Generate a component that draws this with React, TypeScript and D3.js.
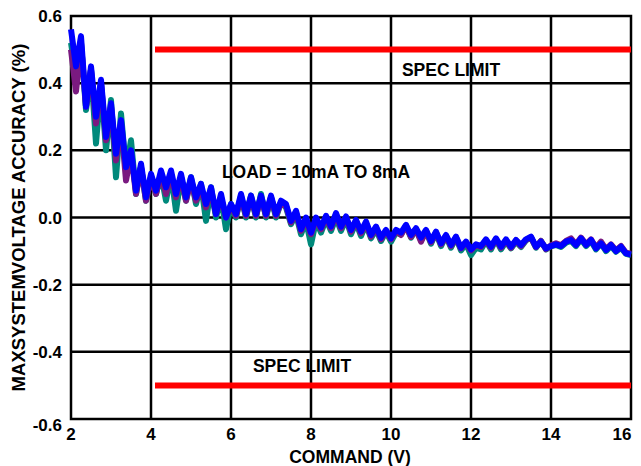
import React, { useEffect, useRef } from 'react';
import * as d3 from 'd3';

// command voltage, 2 V to 16 V in 0.125 V steps
const xStart = 2;
const xStep = 0.125;

const blueSeries = [
  0.56, 0.45, 0.54, 0.33, 0.45, 0.30, 0.41, 0.24, 0.34, 0.19, 0.29, 0.15, 0.20, 0.08, 0.16, 0.06,
  0.13, 0.08, 0.14, 0.09, 0.14, 0.07, 0.13, 0.06, 0.12, 0.06, 0.10, 0.04, 0.09, 0.01, 0.07, 0.00,
  0.04, 0.01, 0.07, 0.01, 0.065, 0.01, 0.065, 0.01, 0.065, 0.01, 0.05, 0.04, -0.01, 0.02, -0.035, 0.0,
  -0.045, 0.0, -0.03, 0.005, -0.027, 0.013, -0.027, 0.003, -0.037, -0.007, -0.042, -0.012, -0.052, -0.027, -0.06, -0.037,
  -0.062, -0.037, -0.045, -0.022, -0.052, -0.032, -0.06, -0.037, -0.07, -0.042, -0.077, -0.052, -0.082, -0.057, -0.09, -0.072,
  -0.095, -0.08, -0.085, -0.065, -0.087, -0.062, -0.087, -0.065, -0.087, -0.067, -0.082, -0.065, -0.057, -0.087, -0.072, -0.092,
  -0.085, -0.08, -0.085, -0.072, -0.067, -0.082, -0.062, -0.082, -0.067, -0.092, -0.077, -0.097, -0.082, -0.10, -0.087, -0.107,
  -0.11,
];

const tealSeries = [
  0.52, 0.42, 0.52, 0.32, 0.44, 0.22, 0.40, 0.20, 0.35, 0.12, 0.31, 0.14, 0.23, 0.07, 0.15, 0.05,
  0.12, 0.07, 0.13, 0.05, 0.13, 0.02, 0.12, 0.05, 0.12, 0.04, 0.10, -0.01, 0.09, 0.0, 0.06, -0.035,
  0.04, 0.0, 0.065, 0.0, 0.065, 0.0, 0.07, 0.0, 0.06, 0.0, 0.045, 0.03, -0.02, 0.01, -0.05, -0.01,
  -0.08, -0.01, -0.045, -0.005, -0.04, 0.0, -0.04, -0.005, -0.05, -0.015, -0.055, -0.02, -0.062, -0.035, -0.07, -0.042,
  -0.072, -0.045, -0.05, -0.025, -0.06, -0.035, -0.068, -0.04, -0.078, -0.045, -0.085, -0.055, -0.09, -0.06, -0.098, -0.078,
  -0.112, -0.09, -0.095, -0.07, -0.095, -0.065, -0.095, -0.072, -0.092, -0.072, -0.088, -0.068, -0.06, -0.09, -0.07, -0.095,
  -0.085, -0.082, -0.088, -0.075, -0.07, -0.085, -0.065, -0.085, -0.07, -0.095, -0.077, -0.10, -0.085, -0.102, -0.09, -0.108,
  -0.112,
];

const purpleSeries = [
  0.50, 0.375, 0.52, 0.33, 0.44, 0.28, 0.40, 0.23, 0.33, 0.17, 0.28, 0.11, 0.19, 0.07, 0.15, 0.05,
  0.12, 0.07, 0.13, 0.07, 0.13, 0.06, 0.12, 0.05, 0.11, 0.05, 0.09, 0.03, 0.08, 0.01, 0.06, 0.0,
  0.035, 0.005, 0.06, 0.005, 0.06, 0.005, 0.06, 0.005, 0.06, 0.005, 0.045, 0.035, -0.015, 0.015, -0.04, -0.005,
  -0.05, -0.005, -0.035, 0.0, -0.032, 0.008, -0.032, 0.0, -0.042, -0.01, -0.047, -0.017, -0.057, -0.03, -0.065, -0.04,
  -0.065, -0.04, -0.052, -0.025, -0.058, -0.035, -0.072, -0.04, -0.074, -0.045, -0.08, -0.055, -0.085, -0.06, -0.092, -0.074,
  -0.098, -0.082, -0.088, -0.068, -0.09, -0.065, -0.09, -0.068, -0.09, -0.068, -0.085, -0.066, -0.06, -0.088, -0.07, -0.094,
  -0.083, -0.077, -0.083, -0.07, -0.062, -0.08, -0.06, -0.08, -0.065, -0.09, -0.072, -0.095, -0.08, -0.098, -0.085, -0.105,
  -0.108,
];

const xTicks = [2, 4, 6, 8, 10, 12, 14, 16];
const yTicks = [-0.6, -0.4, -0.2, 0.0, 0.2, 0.4, 0.6];
const specLimits = [0.5, -0.5];
const specStart = 4.1;

const series = [
  { name: 'teal', color: '#00897b', values: tealSeries },
  { name: 'purple', color: '#7a1a80', values: purpleSeries },
  { name: 'blue', color: '#0000ff', values: blueSeries },
];

const W = 641;
const H = 466;
const margin = { left: 71, right: 10, top: 16, bottom: 47 };
const font = 'Liberation Sans, Arial, sans-serif';

export default function App() {
  const node = useRef<SVGSVGElement | null>(null);

  useEffect(() => {
    const svg = d3.select(node.current);
    svg.selectAll('*').remove();

    const x = d3.scaleLinear().domain([2, 16]).range([margin.left, W - margin.right]);
    const y = d3.scaleLinear().domain([-0.6, 0.6]).range([H - margin.bottom, margin.top]);

    // grid
    const grid = svg.append('g').attr('stroke', '#000').attr('stroke-width', 2.5);
    grid.selectAll('line.v')
      .data(xTicks.slice(1, -1))
      .enter()
      .append('line')
      .attr('x1', (d) => x(d)).attr('x2', (d) => x(d))
      .attr('y1', y(0.6)).attr('y2', y(-0.6));
    grid.selectAll('line.h')
      .data(yTicks.slice(1, -1))
      .enter()
      .append('line')
      .attr('class', 'h')
      .attr('x1', x(2)).attr('x2', x(16))
      .attr('y1', (d) => y(d)).attr('y2', (d) => y(d));
    svg.append('rect')
      .attr('x', x(2)).attr('y', y(0.6))
      .attr('width', x(16) - x(2)).attr('height', y(-0.6) - y(0.6))
      .attr('fill', 'none').attr('stroke', '#000').attr('stroke-width', 2.5);

    // spec limits
    svg.selectAll('line.spec')
      .data(specLimits)
      .enter()
      .append('line')
      .attr('x1', x(specStart)).attr('x2', x(16))
      .attr('y1', (d) => y(d)).attr('y2', (d) => y(d))
      .attr('stroke', '#ff0000').attr('stroke-width', 6);

    const line = d3.line<number>()
      .x((d, i) => x(xStart + i * xStep))
      .y((d) => y(d));

    svg.selectAll('path.series')
      .data(series)
      .enter()
      .append('path')
      .attr('d', (d) => line(d.values))
      .attr('fill', 'none')
      .attr('stroke', (d) => d.color)
      .attr('stroke-width', 6)
      .attr('stroke-linejoin', 'round');

    const text = svg.append('g')
      .attr('font-family', font)
      .attr('font-weight', 'bold')
      .attr('fill', '#000');

    text.selectAll('text.xt')
      .data(xTicks)
      .enter()
      .append('text')
      .attr('x', (d) => x(d) + (d === 16 ? -9 : 0))
      .attr('y', y(-0.6) + 21)
      .attr('text-anchor', 'middle')
      .attr('font-size', 17)
      .text((d) => d);

    text.selectAll('text.yt')
      .data(yTicks)
      .enter()
      .append('text')
      .attr('x', margin.left - 9)
      .attr('y', (d) => y(d) + (d === -0.6 ? 12 : 6))
      .attr('text-anchor', 'end')
      .attr('font-size', 17)
      .text((d) => d.toFixed(1));

    text.append('text')
      .attr('x', 350).attr('y', H - 3)
      .attr('text-anchor', 'middle')
      .attr('font-size', 17.5)
      .text('COMMAND (V)');

    text.append('text')
      .attr('transform', `translate(25, ${(y(0.6) + y(-0.6)) / 2}) rotate(-90)`)
      .attr('text-anchor', 'middle')
      .attr('font-size', 18.5)
      .text('MAXSYSTEMVOLTAGE ACCURACY (%)');

    text.append('text')
      .attr('x', 451).attr('y', 76)
      .attr('text-anchor', 'middle')
      .attr('font-size', 17.5)
      .text('SPEC LIMIT');

    text.append('text')
      .attr('x', 302).attr('y', 372)
      .attr('text-anchor', 'middle')
      .attr('font-size', 17.5)
      .text('SPEC LIMIT');

    text.append('text')
      .attr('x', 316).attr('y', 178)
      .attr('text-anchor', 'middle')
      .attr('font-size', 17.5)
      .text('LOAD = 10mA TO 8mA');
  }, []);

  return (
    <svg
      ref={node}
      width={W}
      height={H}
      style={{ position: 'absolute', left: 0, top: 0, background: '#fff' }}
    />
  );
}
